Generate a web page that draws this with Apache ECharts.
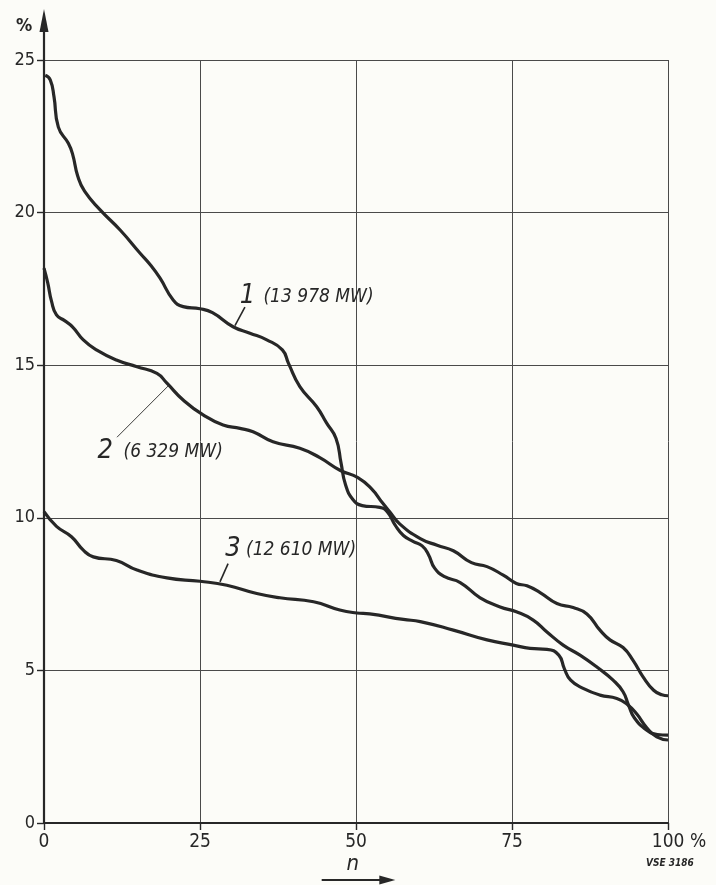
<!DOCTYPE html>
<html><head><meta charset="utf-8">
<script src="https://cdn.jsdelivr.net/npm/echarts@6/dist/echarts.min.js"></script>
<style>html,body{margin:0;padding:0;background:#fcfcf8}#c{width:716px;height:885px}</style>
</head><body><div id="c"></div>
<script>
// Axis ticks
const xTicks = [0, 25, 50, 75, 100];
const yTicks = [0, 5, 10, 15, 20, 25];

// Curve 1 (13 978 MW): [n %, value %]
const curve1 = [[0.2,24.5],[1,24.35],[1.6,23.8],[2.3,22.8],[3.9,22.27],[4.6,21.9],[5.4,21.2],[6.5,20.7],[9,20.09],[12.2,19.43],[15.4,18.67],[17,18.3],[18.6,17.85],[20.7,17.14],[22.3,16.92],[25,16.85],[27,16.72],[30.3,16.26],[33,16.05],[35.7,15.83],[38.2,15.5],[39.2,15.05],[41,14.3],[43.7,13.64],[45.3,13.1],[46.8,12.6],[47.6,11.8],[48.3,11.1],[49.5,10.6],[51,10.4],[53.8,10.34],[55,10.2],[56.3,9.75],[57.6,9.42],[59.2,9.22],[60.6,9.08],[61.6,8.8],[62.6,8.35],[64.2,8.07],[66.7,7.88],[69.9,7.38],[73.1,7.08],[75.7,6.92],[78.4,6.65],[80.6,6.26],[83.2,5.83],[85.9,5.5],[88.6,5.11],[91.2,4.68],[92.8,4.3],[93.7,3.85],[94.6,3.45],[96.6,3.04],[98.3,2.9],[100,2.88]];

// Curve 2 (6 329 MW)
const curve2 = [[0,18.18],[0.6,17.7],[1.2,17.1],[2,16.65],[3.3,16.46],[4.6,16.25],[6.3,15.83],[8.4,15.5],[11.6,15.17],[14.9,14.95],[18.1,14.73],[19.7,14.41],[22.3,13.86],[25.5,13.37],[28.7,13.04],[31.4,12.93],[33.5,12.82],[36.7,12.49],[41,12.28],[44.2,11.97],[47.5,11.55],[50.3,11.32],[52.5,10.95],[54.2,10.5],[55.4,10.2],[57,9.8],[60.3,9.32],[63,9.1],[65.6,8.92],[68.5,8.53],[71,8.4],[73.6,8.12],[75.7,7.85],[77.4,7.77],[79.5,7.55],[82.2,7.19],[84.8,7.06],[87,6.85],[89.1,6.32],[90.7,6.0],[92.8,5.75],[94.4,5.33],[96,4.79],[97.7,4.35],[99,4.2],[100,4.17]];

// Curve 3 (12 610 MW)
const curve3 = [[0,10.2],[2,9.72],[4.4,9.38],[6.3,8.94],[7.9,8.72],[11.6,8.6],[14.9,8.29],[19.7,8.03],[25,7.92],[29.3,7.79],[34.1,7.52],[37.8,7.38],[43.2,7.25],[47.4,6.98],[50.1,6.88],[52.2,6.85],[57.6,6.67],[60.3,6.6],[65.6,6.32],[71,6.0],[75.2,5.83],[77.9,5.72],[80.6,5.69],[82.5,5.5],[83.4,5.05],[84.4,4.68],[86.4,4.41],[89.1,4.19],[91.8,4.08],[93.4,3.9],[95,3.57],[96.6,3.12],[98.2,2.82],[100,2.72]];

// Curve labels
const curveNums = ['1', '2', '3'];
const curveTexts = ['(13 978 MW)', '(6 329 MW)', '(12 610 MW)'];

// Annotation anchors (data coordinates)
const numAnchors = [[32.6,17.27],[9.8,12.2],[30.3,8.97]];
const textAnchors = [[44.0,17.24],[20.7,12.15],[41.2,8.94]];
const arrowFrom = [[32.2,16.9],[11.7,12.64],[29.5,8.5]];
const arrowTo = [[30.6,16.3],[19.9,14.32],[28.2,7.9]];
const arrowWidths = [1.6, 0.9, 1.6];

const INK = '#272727';
const FONT = "'DejaVu Sans Condensed','DejaVu Sans',sans-serif";

const chart = echarts.init(document.getElementById('c'), null, {renderer: 'canvas'});

function makeSeries(data, i) {
  return {
    type: 'line',
    data: data,
    smooth: 0.5,
    showSymbol: false,
    symbol: 'none',
    lineStyle: {color: INK, width: 3.2},
    z: 3,
    markPoint: {
      symbol: 'circle', symbolSize: 1,
      itemStyle: {color: 'rgba(0,0,0,0)'},
      silent: true,
      data: [
        {coord: numAnchors[i], name: curveNums[i],
         label: {show: true, position: 'inside', formatter: '{b}', color: INK,
                 fontFamily: FONT, fontStyle: 'italic', fontSize: 27}},
        {coord: textAnchors[i], name: curveTexts[i],
         label: {show: true, position: 'inside', formatter: '{b}', color: INK,
                 fontFamily: FONT, fontStyle: 'italic', fontSize: 19}}
      ]
    },
    markLine: {
      silent: true,
      symbol: ['none', 'arrow'],
      symbolSize: [0, 9],
      label: {show: false},
      lineStyle: {type: 'solid', color: INK, width: arrowWidths[i]},
      data: [[{coord: arrowFrom[i]}, {coord: arrowTo[i]}]]
    }
  };
}

chart.setOption({
  animation: false,
  backgroundColor: '#fcfcf8',
  grid: {left: 44, top: 60, width: 624, height: 763, containLabel: false},
  xAxis: {
    type: 'value', min: xTicks[0], max: xTicks[xTicks.length - 1], interval: 25,
    axisLine: {show: true, lineStyle: {color: INK, width: 2.2}},
    axisTick: {show: true, length: 7, lineStyle: {color: INK, width: 1.4}},
    splitLine: {show: true, lineStyle: {color: '#4a4a4a', width: 1}},
    axisLabel: {
      margin: 10, color: INK, fontFamily: FONT, fontSize: 19,
      formatter: v => v === 100 ? '{h|100 %}' : String(v),
      rich: {h: {padding: [0, 0, 0, 22], fontFamily: FONT, fontSize: 19, color: INK}}
    }
  },
  yAxis: {
    type: 'value', min: yTicks[0], max: yTicks[yTicks.length - 1], interval: 5,
    axisLine: {show: true, lineStyle: {color: INK, width: 2.2}},
    axisTick: {show: true, length: 7, lineStyle: {color: INK, width: 1.4}},
    splitLine: {show: true, lineStyle: {color: '#4a4a4a', width: 1}},
    axisLabel: {margin: 9, color: INK, fontFamily: FONT, fontSize: 18}
  },
  series: [curve1, curve2, curve3].map(makeSeries)
});

// Decorations anchored to the grid
const o = chart.convertToPixel({gridIndex: 0}, [0, 0]);
const t = chart.convertToPixel({gridIndex: 0}, [0, 25]);
const xr = chart.convertToPixel({gridIndex: 0}, [100, 0]);
const nx = chart.convertToPixel({gridIndex: 0}, [49.5, 0]);
const a0 = chart.convertToPixel({gridIndex: 0}, [44.5, 0]);
const a1 = chart.convertToPixel({gridIndex: 0}, [56.3, 0]);

chart.setOption({
  graphic: [
    {type: 'line', shape: {x1: o[0], y1: t[1], x2: o[0], y2: t[1] - 32}, style: {stroke: INK, lineWidth: 2.2}},
    {type: 'polygon', shape: {points: [[o[0], t[1] - 51], [o[0] - 4.5, t[1] - 28], [o[0] + 4.5, t[1] - 28]]}, style: {fill: INK}},
    {type: 'text', x: o[0] - 20, y: t[1] - 34, style: {text: '%', fill: INK, font: "bold 18px " + FONT, textAlign: 'center', textVerticalAlign: 'middle'}},
    {type: 'text', x: nx[0], y: o[1] + 41, style: {text: 'n', fill: INK, font: "italic 22px " + FONT, textAlign: 'center', textVerticalAlign: 'middle'}},
    {type: 'line', shape: {x1: a0[0], y1: o[1] + 57, x2: a1[0] - 12, y2: o[1] + 57}, style: {stroke: INK, lineWidth: 2.2}},
    {type: 'polygon', shape: {points: [[a1[0], o[1] + 57], [a1[0] - 16, o[1] + 52.5], [a1[0] - 16, o[1] + 61.5]]}, style: {fill: INK}},
    {type: 'text', x: xr[0] + 2, y: o[1] + 40, style: {text: 'VSE 3186', fill: INK, font: "italic bold 10px " + FONT, textAlign: 'center', textVerticalAlign: 'middle'}}
  ]
});
</script>
</body></html>
